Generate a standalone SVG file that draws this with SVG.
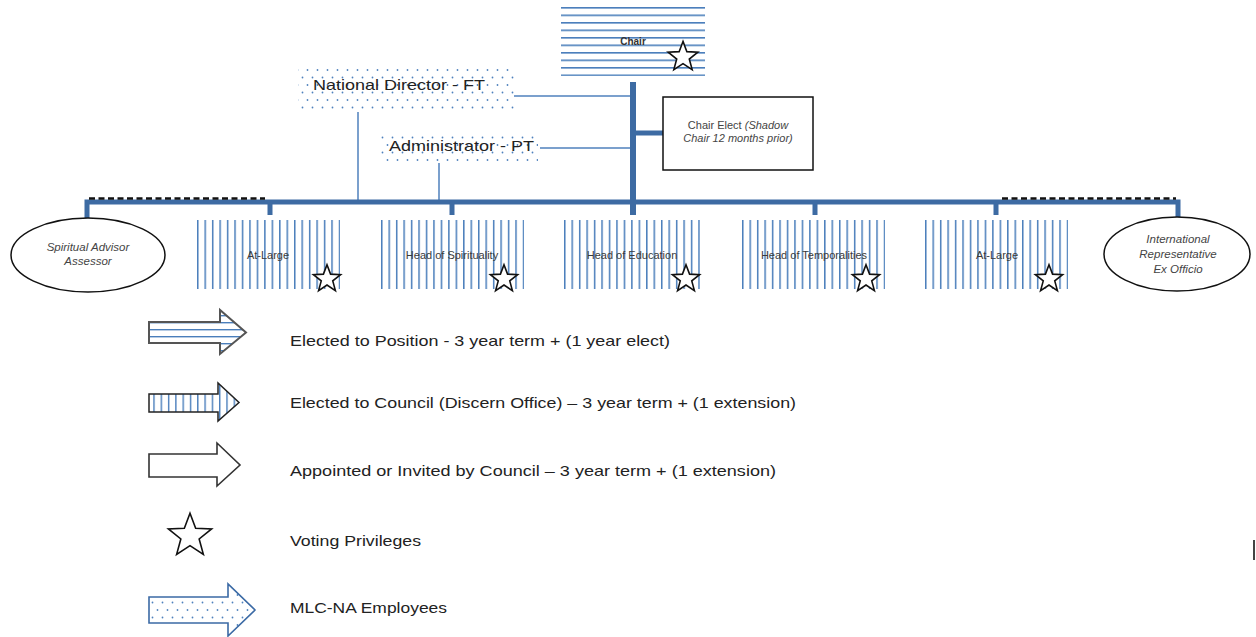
<svg xmlns="http://www.w3.org/2000/svg" xmlns:xlink="http://www.w3.org/1999/xlink" width="1256" height="637" viewBox="0 0 1256 637">
<style>
text { font-family: "Liberation Sans", Arial, sans-serif; }
.lg { font-size: 14.5px; fill: #222; }
.bx { font-size: 11px; fill: #3a3a3a; text-anchor: middle; }
.el { font-size: 11.5px; fill: #444; text-anchor: middle; font-style: italic; }
.thick { stroke: #3d6ba3; fill: none; }
.thin { stroke: #4f81bd; stroke-width: 1.5; fill: none; }
.starp { fill: #fff; stroke: #111; stroke-width: 1.6; }
</style>
<defs>
<pattern id="vs" patternUnits="userSpaceOnUse" width="7.46" height="10">
<rect x="0" y="0" width="1.5" height="10" fill="#4a7ebb"/>
</pattern>
<pattern id="hs" patternUnits="userSpaceOnUse" width="10" height="7.5">
<rect x="0" y="0" width="10" height="1.6" fill="#4a7ebb"/>
</pattern>
<pattern id="dots" patternUnits="userSpaceOnUse" width="10" height="15">
<circle cx="2.5" cy="2.5" r="0.9" fill="#4f81bd"/>
<circle cx="7.5" cy="10" r="0.9" fill="#4f81bd"/>
</pattern>
<pattern id="vs2" patternUnits="userSpaceOnUse" width="7.3" height="10">
<rect x="0" y="0" width="1.4" height="10" fill="#4a7ebb"/>
</pattern>
<pattern id="hs2" patternUnits="userSpaceOnUse" width="10" height="7">
<rect x="0" y="0" width="10" height="1.4" fill="#4a7ebb"/>
</pattern>
<path id="star" vector-effect="non-scaling-stroke" d="M0,-13 L3.23,-4.45 L12.36,-4.02 L5.23,1.70 L7.64,10.52 L0,5.5 L-7.64,10.52 L-5.23,1.70 L-12.36,-4.02 L-3.23,-4.45 Z"/>
</defs>

<rect width="1256" height="637" fill="#fff"/>

<g id="connectors">
<path class="thin" d="M514,96 H631"/>
<path class="thin" d="M540,148 H631"/>
<path class="thin" d="M358,112 V200"/>
<path class="thin" d="M439,163 V200"/>
<path class="thick" stroke-width="5" d="M87,218 V202 H1178 V218"/>
<path d="M89,198.5 H265" stroke="#111" stroke-width="2.5" stroke-dasharray="6,3.5" fill="none"/>
<path d="M1002,198.5 H1176" stroke="#111" stroke-width="2.5" stroke-dasharray="6,3.5" fill="none"/>
<path class="thick" stroke-width="6" d="M633,82 V215"/>
<path class="thick" stroke-width="5" d="M633,133 H663"/>
<path class="thick" stroke-width="5" d="M270,202 V215 M452,202 V215 M815,202 V215 M996,202 V215"/>
</g>

<g id="chair" transform="translate(561,7)">
<rect x="0" y="0" width="144" height="69" fill="url(#hs)"/>
<text x="72" y="38" font-size="10" font-weight="bold" fill="#333" text-anchor="middle">Chair</text>
<use xlink:href="#star" class="starp" transform="translate(122,50) scale(1.2)"/>
</g>

<g id="national-director">
<rect x="298" y="65" width="217" height="47" fill="url(#dots)"/>
<text x="313" y="90" class="lg" font-size="15" textLength="172" lengthAdjust="spacingAndGlyphs">National Director - FT</text>
</g>

<g id="administrator">
<rect x="380" y="132" width="158" height="31" fill="url(#dots)"/>
<text x="389" y="151" class="lg" font-size="15" textLength="145" lengthAdjust="spacingAndGlyphs">Administrator - PT</text>
</g>

<g id="chair-elect">
<rect x="663" y="97" width="150" height="73" fill="#fff" stroke="#111" stroke-width="1.5"/>
<text x="738" y="129" font-size="11" fill="#444" text-anchor="middle">Chair Elect <tspan font-style="italic">(Shadow</tspan></text>
<text x="738" y="142" font-size="11" fill="#444" text-anchor="middle" font-style="italic">Chair 12 months prior)</text>
</g>

<g id="spiritual-advisor">
<ellipse cx="88" cy="255" rx="77" ry="37" fill="#fff" stroke="#111" stroke-width="1.5"/>
<text x="88" y="251" class="el">Spiritual Advisor</text>
<text x="88" y="265" class="el">Assessor</text>
</g>

<g id="at-large-1" transform="translate(197,220)">
<rect width="143" height="69" fill="url(#vs)"/>
<text x="71" y="39" class="bx">At-Large</text>
<use xlink:href="#star" class="starp" transform="translate(130,59) scale(1.1)"/>
</g>

<g id="head-spirituality" transform="translate(381,220)">
<rect width="143" height="69" fill="url(#vs)"/>
<text x="71" y="39" class="bx">Head of Spirituality</text>
<use xlink:href="#star" class="starp" transform="translate(123,59) scale(1.1)"/>
</g>

<g id="head-education" transform="translate(564,220)">
<rect width="136" height="69" fill="url(#vs)"/>
<text x="68" y="39" class="bx">Head of Education</text>
<use xlink:href="#star" class="starp" transform="translate(122,59) scale(1.1)"/>
</g>

<g id="head-temporalities" transform="translate(742,220)">
<rect width="143" height="69" fill="url(#vs)"/>
<text x="72" y="39" class="bx">Head of Temporalities</text>
<use xlink:href="#star" class="starp" transform="translate(124,59) scale(1.1)"/>
</g>

<g id="at-large-2" transform="translate(925,220)">
<rect width="143" height="69" fill="url(#vs)"/>
<text x="72" y="39" class="bx">At-Large</text>
<use xlink:href="#star" class="starp" transform="translate(124,59) scale(1.1)"/>
</g>

<g id="international-rep">
<ellipse cx="1177" cy="254" rx="73" ry="37" fill="#fff" stroke="#111" stroke-width="1.5"/>
<text x="1178" y="243" class="el">International</text>
<text x="1178" y="258" class="el">Representative</text>
<text x="1178" y="273" class="el">Ex Officio</text>
</g>

<g id="legend">
<path d="M149,322 H220 V310 L246,332.5 L220,354 V343 H149 Z" fill="#fff"/>
<path d="M149,322 H220 V310 L246,332.5 L220,354 V343 H149 Z" fill="url(#hs2)"/>
<path d="M149,322 H220 V310 L246,332.5 L220,354 V343 H149 Z" fill="none" stroke="#555" stroke-width="2"/>
<text x="290" y="346" class="lg" textLength="380" lengthAdjust="spacingAndGlyphs">Elected to Position - 3 year term + (1 year elect)</text>

<path d="M149,394 H218 V383 L239,402.5 L218,421 V412 H149 Z" fill="#fff"/>
<path d="M149,394 H218 V383 L239,402.5 L218,421 V412 H149 Z" fill="url(#vs2)"/>
<path d="M149,394 H218 V383 L239,402.5 L218,421 V412 H149 Z" fill="none" stroke="#222" stroke-width="1.5"/>
<text x="290" y="408" class="lg" textLength="506" lengthAdjust="spacingAndGlyphs">Elected to Council (Discern Office) – 3 year term + (1 extension)</text>

<path d="M149,454 H217 V443 L240,465 L217,486 V477 H149 Z" fill="#fff" stroke="#333" stroke-width="1.6"/>
<text x="290" y="476" class="lg" textLength="486" lengthAdjust="spacingAndGlyphs">Appointed or Invited by Council – 3 year term + (1 extension)</text>

<use xlink:href="#star" class="starp" transform="translate(190,536) scale(1.75)"/>
<text x="290" y="546" class="lg" textLength="131" lengthAdjust="spacingAndGlyphs">Voting Privileges</text>

<path d="M149,597 H228 V584 L255,610 L228,636 V623 H149 Z" fill="#fff"/>
<path d="M149,597 H228 V584 L255,610 L228,636 V623 H149 Z" fill="url(#dots)"/>
<path d="M149,597 H228 V584 L255,610 L228,636 V623 H149 Z" fill="none" stroke="#3b6aa5" stroke-width="1.6"/>
<text x="290" y="613" class="lg" textLength="157" lengthAdjust="spacingAndGlyphs">MLC-NA Employees</text>
</g>

<rect x="1253" y="540" width="2" height="20" fill="#444"/>
</svg>
